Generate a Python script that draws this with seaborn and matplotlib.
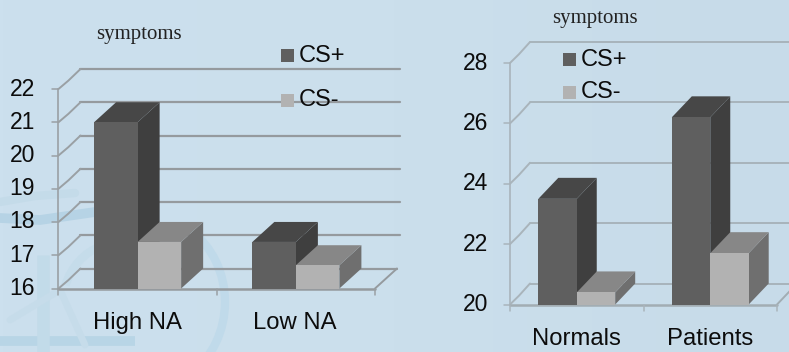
import numpy as np
import pandas as pd
import seaborn as sns
import matplotlib
matplotlib.use("Agg")
import matplotlib.pyplot as plt
from matplotlib.patches import Polygon, Arc
from matplotlib.colors import LinearSegmentedColormap

# Mean symptom ratings per group and stimulus
series_names = ["CS+", "CS-"]
left_groups = ["High NA", "Low NA"]
left_cs_plus = [21.0, 17.4]
left_cs_minus = [17.4, 16.7]
left_ticks = [16, 17, 18, 19, 20, 21, 22]

right_groups = ["Normals", "Patients"]
right_cs_plus = [23.5, 26.2]
right_cs_minus = [20.4, 21.7]
right_ticks = [20, 22, 24, 26, 28]

W, H = 789, 352
BG = "#cbdfec"
FRONT = ["#5f5f5f", "#b2b2b2"]
SIDE = ["#3f3f3f", "#6f6f6f"]
TOP = ["#474747", "#878787"]
INK = "#0c0c0c"

sns.set_theme(style="white")
plt.rcParams["font.family"] = ["Liberation Sans", "DejaVu Sans"]

fig = plt.figure(figsize=(W / 100, H / 100), dpi=100, facecolor=BG)

# Slide backdrop: soft horizontal gradient with a faint ornament in the lower left
bg = fig.add_axes([0, 0, 1, 1], zorder=0)
shade = LinearSegmentedColormap.from_list("slide", ["#cce0ee", "#cbdfec", "#c7dbe9"])
bg.imshow(np.linspace(0, 1, 256)[None, :], cmap=shade, aspect="auto", extent=(0, W, H, 0))
bg.set_xlim(0, W)
bg.set_ylim(H, 0)
bg.axis("off")
bg.plot([0, 40, 95], [218, 220, 212], color="#b6d3e5", lw=7, solid_capstyle="round")
bg.plot([0, 35, 75], [202, 196, 193], color="#c4dbe9", lw=6, solid_capstyle="round")
bg.plot([0, 135], [341, 341], color="#b8d5e6", lw=7, solid_capstyle="butt")
bg.plot([43, 43], [255, 352], color="#c2dbe9", lw=9, solid_capstyle="butt")
bg.add_patch(Arc((150, 302), 150, 170, theta1=-60, theta2=60, color="#c0daea", lw=6))
bg.add_patch(Arc((120, 305), 115, 125, theta1=200, theta2=300, color="#c5dcea", lw=6))
bg.plot([10, 60, 85], [320, 290, 345], color="#c6dcea", lw=5)


def chart(rect, groups, plus, minus, ticks, depth, grid_right, bar_frac, grid_col, wall_col, grid_lw):
    """Draw one pseudo-3D grouped bar panel; rect is (x0, x1, ybottom, ytop) in pixels."""
    x0, x1, yb, yt = rect
    ax = fig.add_axes([x0 / W, 1 - yb / H, (x1 - x0) / W, (yb - yt) / H], zorder=2)
    ax.patch.set_alpha(0)
    dx, dy = depth
    data = pd.DataFrame({
        "group": groups * 2,
        "value": list(plus) + list(minus),
        "stimulus": [series_names[0]] * len(groups) + [series_names[1]] * len(groups),
    })
    sns.barplot(data=data, x="group", y="value", hue="stimulus", hue_order=series_names,
                palette=FRONT, width=bar_frac * 2, gap=0, saturation=1, legend=False,
                ax=ax, zorder=5, linewidth=0)
    ax.set_ylim(ticks[0], ticks[-1])
    ax.set_xlim(-0.5, len(groups) - 0.5)
    ax.set_xlabel("")
    ax.set_ylabel("")
    sns.despine(ax=ax, top=True, right=True, left=True, bottom=True)
    ax.set_xticks([])
    ax.set_yticks([])

    to_px = ax.transData
    base_l = to_px.transform((-0.5, ticks[0]))
    base_r = to_px.transform((len(groups) - 0.5, ticks[0]))
    top_l = to_px.transform((-0.5, ticks[-1]))

    def line(xs, ys, col, lw, z=1):
        ax.plot(xs, ys, color=col, lw=lw, transform=None, clip_on=False, zorder=z)

    # back wall lines, side-wall diagonals and the floor edge
    for t in ticks:
        px = to_px.transform((-0.5, t))
        end = base_r[0] + dx if t == ticks[0] else grid_right
        line([px[0] + dx, end], [px[1] + dy] * 2, grid_col, grid_lw)
        line([px[0], px[0] + dx * .45, px[0] + dx], [px[1], px[1] + dy * .42, px[1] + dy], wall_col, 1.4)
        line([px[0] - 6, px[0]], [px[1], px[1]], wall_col, 1.1)
    line([base_l[0], top_l[0]], [base_l[1], top_l[1]], wall_col, 1.2, 2)
    line([base_l[0], base_r[0]], [base_l[1], base_l[1]], grid_col, 1.8, 2)
    line([base_r[0], base_r[0] + dx], [base_r[1], base_r[1] + dy], grid_col, 1.4, 2)
    for i in range(len(groups) + 1):
        p = to_px.transform((i - 0.5, ticks[0]))
        line([p[0], p[0]], [p[1], p[1] - 6], wall_col, 1.1, 2)

    # extrude every bar from its own patch, back to front
    bars = [b for b in ax.patches if b.get_height() > 0]
    n = len(groups)
    for k, b in enumerate(bars):
        s = k // n
        xa, xb = b.get_x(), b.get_x() + b.get_width()
        v = b.get_height()
        (pxa, pyt) = to_px.transform((xa, v))
        (pxb, pyb) = to_px.transform((xb, ticks[0]))
        order = 6 + s * 2 + (k % n) * 4
        side = [(pxb, pyb), (pxb + dx, pyb + dy), (pxb + dx, pyt + dy), (pxb, pyt)]
        top = [(pxa, pyt), (pxb, pyt), (pxb + dx, pyt + dy), (pxa + dx, pyt + dy)]
        for poly, col in ((side, SIDE[s]), (top, TOP[s])):
            ax.add_patch(Polygon(poly, closed=True, facecolor=col, edgecolor="none",
                                 transform=None, clip_on=False, zorder=order))
        b.set_zorder(order + 1)

    return ax


chart((58.5, 375, 288.5, 89), left_groups, left_cs_plus, left_cs_minus, left_ticks,
      (22, 20), 400, 0.275, "#959a9e", "#9aa0a4", 1.6)
chart((510, 777, 304.5, 63), right_groups, right_cs_plus, right_cs_minus, right_ticks,
      (20, 21), 789, 0.288, "#a2adb3", "#a9b4bb", 1.2)

# Tick labels, category labels, titles and legends drawn over both panels
over = fig.add_axes([0, 0, 1, 1], zorder=3)
over.set_xlim(0, W)
over.set_ylim(H, 0)
over.axis("off")


def tick_labels(ticks, right_edge, yb, yt):
    for t in ticks:
        y = yb - (t - ticks[0]) / (ticks[-1] - ticks[0]) * (yb - yt)
        over.text(right_edge, y, str(t), ha="right", va="center", fontsize=16.5, color=INK)


tick_labels(left_ticks, 35, 288.5, 89)
tick_labels(right_ticks, 488, 304.5, 63)

for x, s in zip([137.5, 295], left_groups):
    over.text(x, 323, s, ha="center", va="center", fontsize=17.2, color=INK)
for x, s in zip([576.5, 710], right_groups):
    over.text(x, 339, s, ha="center", va="center", fontsize=17.2, color=INK)
for x, y in ((139, 34), (595, 18)):
    over.text(x, y, "symptoms", ha="center", va="center", fontsize=15,
              family="Liberation Serif", color="#222222")


def legend(sx, tx, rows):
    for sy, name, col in zip(rows, series_names, FRONT):
        over.fill([sx, sx + 13, sx + 13, sx], [sy, sy, sy + 13, sy + 13], color=col, lw=0)
        over.text(tx, sy + 6.5, name, va="center", fontsize=17, color=INK)


legend(281, 299, (49, 94))
legend(563, 581, (53, 86))

fig.savefig("out.png", dpi=100, facecolor=BG)
